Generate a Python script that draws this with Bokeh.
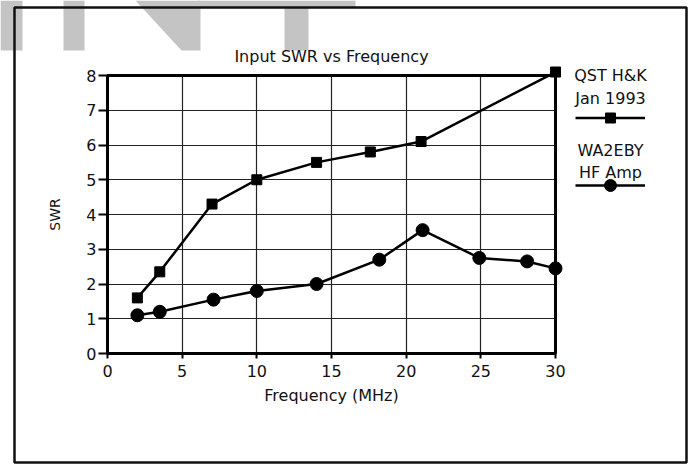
from bokeh.plotting import figure
from bokeh.models import (Range1d, FixedTicker, Label, Legend, LegendItem,
                          BoxAnnotation, PolyAnnotation, Grid)
from bokeh.embed import file_html
from bokeh.resources import INLINE

# ---- data ----
freq_qst = [2.0, 3.5, 7.0, 10.0, 14.0, 17.6, 21.0, 30.0]
swr_qst = [1.6, 2.35, 4.3, 5.0, 5.5, 5.8, 6.1, 8.1]
freq_wa = [2.0, 3.5, 7.1, 10.0, 14.0, 18.2, 21.1, 24.9, 28.1, 30.0]
swr_wa = [1.1, 1.2, 1.55, 1.8, 2.0, 2.7, 3.55, 2.75, 2.65, 2.45]
x_ticks = [0, 5, 10, 15, 20, 25, 30]
y_ticks = [0, 1, 2, 3, 4, 5, 6, 7, 8]
title_text = "Input SWR vs Frequency"
x_label = "Frequency (MHz)"
y_label = "SWR"
legend_qst = ["QST H&K", "Jan 1993"]
legend_wa = ["WA2EBY", "HF Amp"]

FONT = "DejaVu Sans"
INK = "#111111"
W, H = 693, 464
# plot area (grid box) position on the page, in px
PL, PT, PW, PH = 107, 75, 448, 278
X0, X1, Y0, Y1 = 0, 30, 0, 8

def dx(px):
    return X0 + (px - PL) / PW * (X1 - X0)

def dy(py):
    return Y0 + (PT + PH - py) / PH * (Y1 - Y0)

# the frame covers the whole canvas so that boxes and texts outside the
# grid box are not clipped; axes sit at fixed data locations
p = figure(width=W, height=H, output_backend="svg", toolbar_location=None,
           x_range=Range1d(dx(0), dx(W)), y_range=Range1d(dy(H), dy(0)),
           min_border=0)
p.title.visible = False
p.background_fill_color = "white"
p.border_fill_color = "white"
p.outline_line_color = None

for ax in (p.xaxis[0], p.yaxis[0]):
    ax.major_label_text_font = FONT
    ax.major_label_text_font_size = "16px"
    ax.major_label_text_color = INK
    ax.axis_line_color = "black"
    ax.axis_line_width = 3
    ax.major_tick_line_color = "black"
    ax.major_tick_line_width = 2
    ax.major_tick_in = 0
    ax.minor_tick_line_color = None
    ax.axis_label_text_font = FONT
    ax.axis_label_text_font_style = "normal"
    ax.axis_label_text_color = INK
    ax.fixed_location = 0

p.xaxis.bounds = (X0, X1)
p.yaxis.bounds = (Y0, Y1)
p.xaxis.ticker = FixedTicker(ticks=x_ticks)
p.yaxis.ticker = FixedTicker(ticks=y_ticks)
p.xaxis.major_tick_out = 5
p.yaxis.major_tick_out = 9
p.xaxis.major_label_standoff = 6
p.yaxis.major_label_standoff = 2
p.xaxis.axis_label = x_label
p.yaxis.axis_label = y_label
p.xaxis.axis_label_text_font_size = "16px"
p.yaxis.axis_label_text_font_size = "14px"
p.xaxis.axis_label_standoff = 6
p.yaxis.axis_label_standoff = 20

p.xgrid.ticker = FixedTicker(ticks=x_ticks)
p.ygrid.ticker = FixedTicker(ticks=y_ticks)
p.xgrid.bounds = (X0, X1)
p.ygrid.bounds = (Y0, Y1)
if "cross_bounds" in Grid.properties():
    p.xgrid.cross_bounds = (Y0, Y1)
    p.ygrid.cross_bounds = (X0, X1)
p.grid.grid_line_color = "#222222"
p.grid.grid_line_width = 1.2
p.grid.grid_line_alpha = 1

# ---- grey watermark shapes of the scanned page ----
grey = "#c4c4c4"
wm = [
    ([0, 22, 22, 0], [0, 0, 50, 50]),
    ([63, 84, 84, 63], [0, 0, 50, 50]),
    ([135, 200, 200, 181], [0, 0, 50, 50]),
    ([197, 355, 355, 308, 308, 284, 284, 197], [0, 0, 7, 7, 50, 50, 7, 7]),
]
for xs, ys in wm:
    p.add_layout(PolyAnnotation(xs=[dx(v) for v in xs], ys=[dy(v) for v in ys],
                                fill_color=grey, fill_alpha=1, line_alpha=0,
                                level="underlay"))

# outer chart box and the plot-area box
p.add_layout(BoxAnnotation(left=dx(14), right=dx(686), top=dy(7), bottom=dy(462),
                           fill_alpha=0, line_color=INK, line_alpha=1,
                           line_width=2.5, level="underlay"))
p.add_layout(BoxAnnotation(left=X0, right=X1, top=Y1, bottom=Y0,
                           fill_alpha=0, line_color="black", line_alpha=1,
                           line_width=3, level="underlay"))

# ---- series ----
l1 = p.line(freq_qst, swr_qst, line_color="black", line_width=2.5)
m1 = p.scatter(freq_qst, swr_qst, marker="square", size=10, fill_color="black",
               line_color="black")
l2 = p.line(freq_wa, swr_wa, line_color="black", line_width=2.5)
m2 = p.scatter(freq_wa, swr_wa, marker="circle", size=13, fill_color="black",
               line_color="black")

# ---- title ----
p.add_layout(Label(x=(X0 + X1) / 2, y=dy(56), text=title_text,
                   text_align="center", text_baseline="middle", text_font=FONT,
                   text_font_size="16px", text_color=INK))

# ---- legend: text above a sample line ----
def legend_for(renderers, gh, cy_page):
    lg = Legend(items=[LegendItem(label=" ", renderers=renderers)],
                location=(575, (H - cy_page) - gh / 2),
                glyph_width=70, glyph_height=gh, label_height=0,
                label_width=0, label_standoff=0, padding=0, margin=0,
                spacing=0, border_line_alpha=0, background_fill_alpha=0,
                label_text_font_size="1px")
    p.add_layout(lg)

legend_for([l1, m1], 25, 117)
legend_for([l2, m2], 30, 185)

for txt, ypg in zip(legend_qst + legend_wa, [75, 98, 150, 172]):
    p.add_layout(Label(x=dx(610), y=dy(ypg), text=txt, text_align="center",
                       text_baseline="middle", text_font=FONT,
                       text_font_size="16px", text_color=INK))

open("out.html", "w").write(file_html(p, INLINE))
